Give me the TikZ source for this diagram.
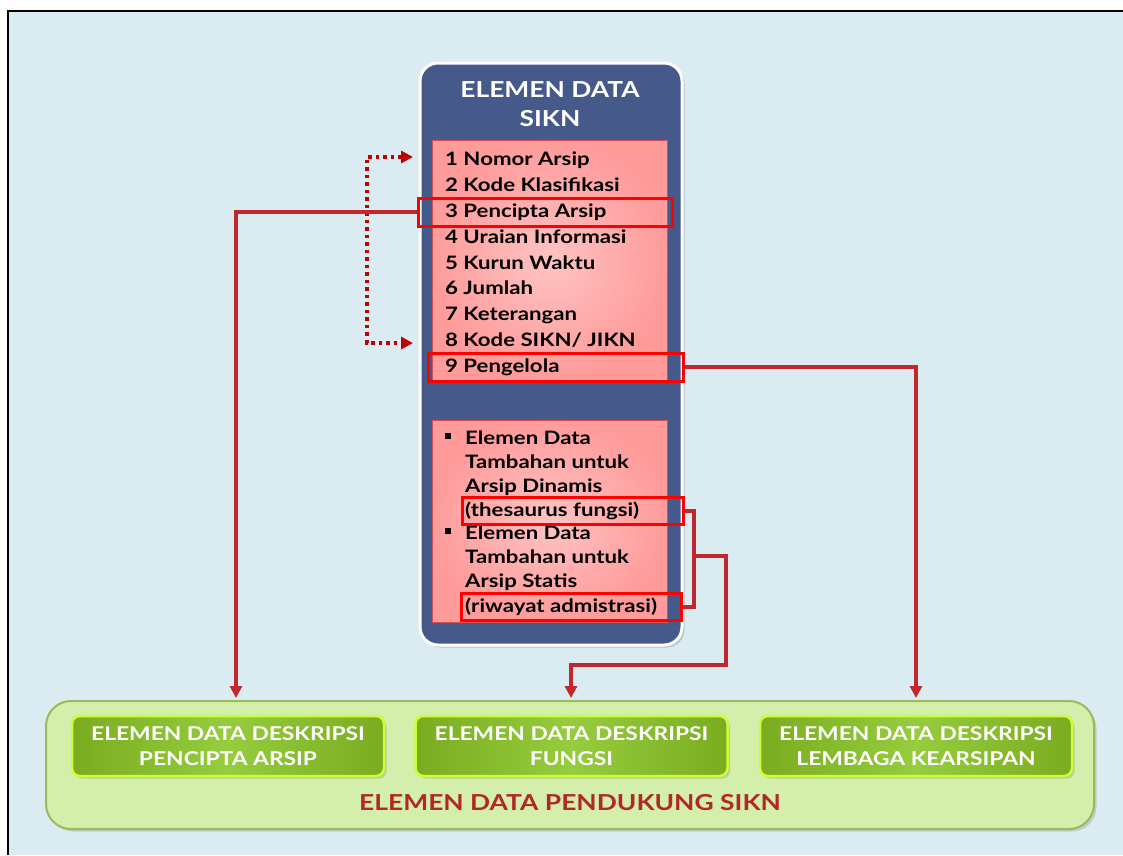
\documentclass[tikz,border=0pt]{standalone}
\usepackage{fontspec}
\setmainfont{Lato}[FakeStretch=1.2]
\usetikzlibrary{arrows.meta,shadows}
\definecolor{bgblue}{RGB}{218,236,242}
\definecolor{panelblue}{RGB}{69,89,139}
\definecolor{pinkin}{RGB}{255,195,195}
\definecolor{pinkout}{RGB}{255,155,155}
\definecolor{pinkedge}{RGB}{210,80,80}
\definecolor{hlred}{RGB}{255,0,0}
\definecolor{linkred}{RGB}{192,40,45}
\definecolor{dotred}{RGB}{192,0,0}
\definecolor{leafpale}{RGB}{212,238,172}
\definecolor{leafedge}{RGB}{155,187,89}
\definecolor{leafdark}{RGB}{122,172,32}
\definecolor{leaflight}{RGB}{150,204,62}
\definecolor{leafrim}{RGB}{204,255,51}
\definecolor{titlered}{RGB}{176,40,40}
\begin{document}
\begin{tikzpicture}[x=1pt,y=-1pt,
    panel/.style={rectangle, rounded corners=18pt, draw=white, line width=3pt,
      fill=panelblue, drop shadow={opacity=0.35}},
    pinkbox/.style={rectangle, draw=pinkedge, line width=0.8pt,
      inner color=pinkin, outer color=pinkout, minimum width=235pt},
    item/.style={anchor=base west, inner sep=0pt,
      font=\bfseries\fontsize{18.5}{24}\selectfont},
    bullet/.style={rectangle, fill=black, minimum size=6pt, inner sep=0pt},
    hilite/.style={rectangle, draw=hlred, line width=3pt, inner sep=0pt},
    linkline/.style={draw=linkred, line width=4pt},
    link/.style={linkline, -{Triangle[length=12pt,width=12pt]}},
    dotlink/.style={draw=dotred, line width=3.5pt, dash pattern=on 3.5pt off 4pt,
      {Triangle[length=12pt,width=12pt]}-{Triangle[length=12pt,width=12pt]}},
    leafbox/.style={rectangle, rounded corners=25pt, draw=leafedge, line width=2pt,
      fill=leafpale, drop shadow={opacity=0.3}},
    leafbtn/.style={rectangle, rounded corners=8pt, draw=leafrim, line width=2.5pt,
      left color=leafdark, right color=leafdark, middle color=leaflight,
      minimum width=312pt, minimum height=60pt, text=white, align=center,
      font=\bfseries\fontsize{19}{25}\selectfont, drop shadow={opacity=0.3}}]

    \useasboundingbox (0,0) rectangle (1123,855);
    \fill[white] (0,0) rectangle (1123,855);
    \fill[bgblue] (9,12) rectangle (1123,855);
    \draw[line width=2pt] (8,855) -- (8,11) -- (1123,11);

    \node[leafbox, minimum width=1048pt, minimum height=128pt] (pendukung) at (570,765) {};
    \node[leafbtn] (pencipta) at (228,746) {ELEMEN DATA DESKRIPSI\\PENCIPTA ARSIP};
    \node[leafbtn] (fungsi) at (571.5,746) {ELEMEN DATA DESKRIPSI\\FUNGSI};
    \node[leafbtn] (lembaga) at (916,746) {ELEMEN DATA DESKRIPSI\\LEMBAGA KEARSIPAN};
    \node[text=titlered, font=\bfseries\fontsize{22}{26}\selectfont] (judulbawah) at (570,803)
      {ELEMEN DATA PENDUKUNG SIKN};

    \node[panel, minimum width=262pt, minimum height=582pt] (sikn) at (551,354) {};
    \node[text=white, align=center, font=\bfseries\fontsize{22}{29}\selectfont] (judul) at (550,104)
      {ELEMEN DATA\\SIKN};

    \node[pinkbox, minimum height=240pt] (daftar) at (549.5,260) {};
    \node[pinkbox, minimum height=202pt] (tambahan) at (549.5,521) {};

    \node[item] (i1) at (445,165) {1 Nomor Arsip};
    \node[item] (i2) at (445,191) {2 Kode Klasifikasi};
    \node[item] (i3) at (445,217) {3 Pencipta Arsip};
    \node[item] (i4) at (445,243) {4 Uraian Informasi};
    \node[item] (i5) at (445,269) {5 Kurun Waktu};
    \node[item] (i6) at (445,294) {6 Jumlah};
    \node[item] (i7) at (445,320) {7 Keterangan};
    \node[item] (i8) at (445,346) {8 Kode SIKN/ JIKN};
    \node[item] (i9) at (445,372) {9 Pengelola};

    \node[bullet] (b1) at (448,436) {};
    \node[item] (t1) at (465,444) {Elemen Data};
    \node[item] (t2) at (465,468) {Tambahan untuk};
    \node[item] (t3) at (465,492) {Arsip Dinamis};
    \node[item] (t4) at (465,516) {(thesaurus fungsi)};
    \node[bullet] (b2) at (448,531) {};
    \node[item] (t5) at (465,539) {Elemen Data};
    \node[item] (t6) at (465,563) {Tambahan untuk};
    \node[item] (t7) at (465,587) {Arsip Statis};
    \node[item] (t8) at (465,612) {(riwayat admistrasi)};

    \node[hilite, minimum width=254pt, minimum height=28pt] (hl3) at (545.5,212) {};
    \node[hilite, minimum width=255pt, minimum height=28pt] (hl9) at (555.5,367) {};
    \node[hilite, minimum width=221pt, minimum height=27pt] (hlthes) at (573,511) {};
    \node[hilite, minimum width=220pt, minimum height=27pt] (hlriw) at (571,607) {};

    \coordinate (dtop) at (413,157);
    \coordinate (dbot) at (413,343);
    \draw[dotlink] (dtop) -| (367,250) |- (dbot);

    \coordinate (inA) at (236,698);
    \coordinate (inB) at (571,698);
    \coordinate (inC) at (916,698);
    \coordinate (brk) at (694,556);
    \coordinate (turn) at (726,665);

    \draw[link] (hl3.west) -| (inA);
    \draw[link] (hl9.east) -| (inC);
    \draw[linkline] (hlthes.east) -| (brk) |- (hlriw.east);
    \draw[link] (brk) -| (turn) -| (inB);

  \end{tikzpicture}
\end{document}
